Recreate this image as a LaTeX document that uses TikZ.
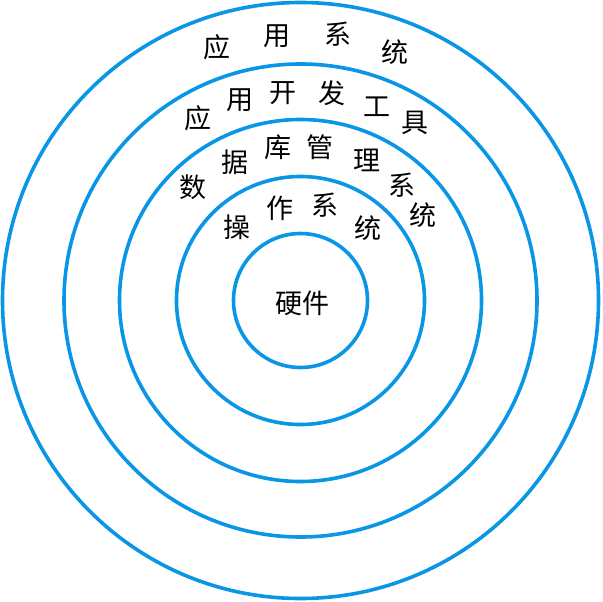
\documentclass[tikz,border=0pt]{standalone}
\usepackage{fontspec}
\newfontfamily\cjk{Noto Sans CJK SC}
\definecolor{ringblue}{RGB}{10,150,230}
\begin{document}
\begin{tikzpicture}[x=1bp,y=-1bp,
  ring/.style={draw=ringblue,line width=3.6bp},
  ch/.style={inner sep=0pt,font=\cjk\fontsize{27bp}{27bp}\selectfont}]
\useasboundingbox (0,0) rectangle (602,602);
\coordinate (c) at (300.5,300.5);
\draw[ring] (c) circle[radius=67];
\draw[ring] (c) circle[radius=124];
\draw[ring] (c) circle[radius=181];
\draw[ring] (c) circle[radius=236.5];
\draw[ring] (c) circle[radius=298];
% outer ring
\node[ch] (a1) at (217,47) {应};
\node[ch] (a2) at (277,36) {用};
\node[ch] (a3) at (338,34) {系};
\node[ch] (a4) at (395,52) {统};
% second ring
\node[ch] (b1) at (198,118) {应};
\node[ch] (b2) at (240,100) {用};
\node[ch] (b3) at (283,93) {开};
\node[ch] (b4) at (332,93) {发};
\node[ch] (b5) at (377,107) {工};
\node[ch] (b6) at (415,123) {具};
% third ring
\node[ch] (d1) at (193,187) {数};
\node[ch] (d2) at (235,162) {据};
\node[ch] (d3) at (278,147) {库};
\node[ch] (d4) at (320,147) {管};
\node[ch] (d5) at (367,160) {理};
\node[ch] (d6) at (402,185) {系};
\node[ch] (d7) at (423,215) {统};
% fourth ring
\node[ch] (e1) at (237,227) {操};
\node[ch] (e2) at (280,208) {作};
\node[ch] (e3) at (325,205) {系};
\node[ch] (e4) at (368,228) {统};
% centre
\node[ch] (hw) at (302,303) {硬件};
\end{tikzpicture}
\end{document}
